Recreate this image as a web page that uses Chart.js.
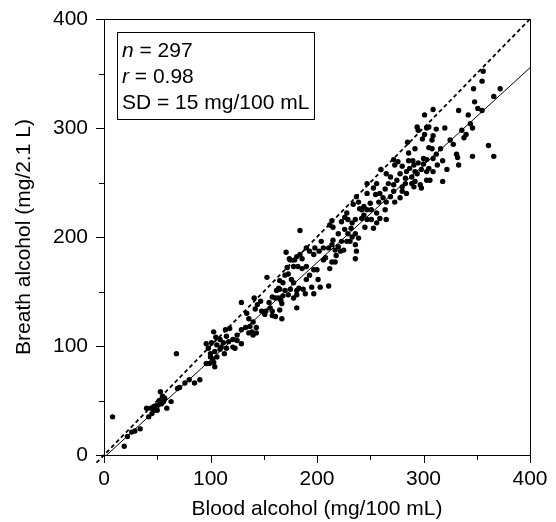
<!DOCTYPE html>
<html>
<head>
<meta charset="utf-8">
<script src="https://cdn.jsdelivr.net/npm/chart.js@4/dist/chart.umd.min.js"></script>
<style>
  html, body { margin: 0; padding: 0; background: #fff; }
  canvas { display: block; }
</style>
</head>
<body>
<canvas id="chart" width="556" height="522"></canvas>
<script>
// Paired measurements: blood alcohol (mg/100 mL) vs breath alcohol (mg/2.1 L)
const bloodAlcohol = [
  8,19,22,26,29,34,40,42,44,45,48,50,52,53,54,56,57,55,59,63,68,69,71,76,80,85,90,96,99,100,96,98,100,47,51,
  101,103,106,103,104,109,112,114,118,125,121,115,109,105,104,110,115,121,129,106,113,134,136,140,143,137,139,143,133,129,129,141,147,144,142,148,125,123,136,140,150,117,102,
  151,156,158,158,165,167,161,153,165,168,162,165,175,181,178,158,161,164,166,168,167,181,171,174,181,172,178,182,170,173,184,204,202,206,198,193,197,190,184,179,186,175,206,176,186,190,197,200,193,201,190,183,187,195,203,211,164,170,173,181,189,197,178,155,152,
  214,217,212,237,239,234,240,226,229,233,236,228,223,214,212,215,229,233,236,239,231,236,228,223,220,225,222,215,214,211,217,237,236,247,253,247,255,259,262,258,250,244,242,247,251,256,264,259,265,242,247,251,256,245,253,208,220,226,244,232,218,
  301,294,301,303,295,285,292,286,290,295,300,303,305,298,294,287,284,289,283,292,297,298,303,280,272,276,273,265,269,275,272,267,264,256,272,280,284,278,273,269,265,305,308,316,312,309,300,291,292,303,309,306,318,289,283,291,280,260,278,286,
  356,355,372,347,366,348,351,355,342,333,309,305,312,320,299,309,308,344,346,340,338,325,328,331,332,333,346,361,366,318,322,313,336
];
const breathAlcohol = [
  35,8,17,21,22,24,43,35,43,38,45,41,50,58,47,49,52,54,43,49,93,61,62,66,69,66,69,84,84,93,102,98,90,41,46,
  103,113,101,85,81,97,103,115,116,110,106,109,106,108,95,99,98,99,102,90,93,130,125,122,117,118,113,112,117,115,140,144,141,138,134,132,105,98,112,110,131,104,88,
  129,135,132,128,133,125,127,163,160,158,151,152,152,151,158,145,144,144,142,146,139,135,186,180,182,172,173,173,165,166,206,196,187,190,190,187,184,190,184,179,180,179,179,161,171,173,170,170,165,161,161,153,152,154,154,155,153,151,147,147,148,148,144,140,132,
  177,177,171,237,232,230,226,218,216,213,216,222,214,215,211,209,203,200,203,199,196,193,196,196,191,188,187,197,193,190,188,187,180,249,245,240,239,240,236,232,231,228,225,225,225,222,225,217,216,217,216,216,213,209,208,181,203,207,220,208,183,
  312,301,294,300,298,287,281,277,270,268,267,271,263,262,258,263,260,255,254,251,248,245,252,265,271,269,266,258,255,252,248,249,244,249,242,246,240,236,232,237,232,282,281,281,276,272,272,266,260,260,260,252,251,249,249,246,242,262,258,270,
  352,343,336,336,329,324,318,316,312,316,317,301,299,300,290,293,289,304,300,294,291,289,285,276,273,266,274,284,274,270,262,266,298
];

// Axis ticks
const majorTicks = [0, 100, 200, 300, 400];
const minorTicks = [50, 150, 250, 350];

// Line of identity and fitted regression line
const identityRange = [-7, 400];
const regressionSlope = 0.894;
const regressionIntercept = -2.3;
const regressionRange = [0, 400];

// Summary statistics box: [italic symbol, remaining text]
const statsLines = [
  ['n', ' = 297'],
  ['r', ' = 0.98'],
  ['', 'SD = 15 mg/100 mL']
];

const FONT = "'Liberation Sans', Arial, Helvetica, sans-serif";

const points = bloodAlcohol.map((b, i) => ({ x: b, y: breathAlcohol[i] }));
const identityLine = identityRange.map(v => ({ x: v, y: v }));
const regressionLine = regressionRange.map(v => ({ x: v, y: regressionIntercept + regressionSlope * v }));

const framePlugin = {
  id: 'frame',
  beforeDatasetsDraw(chart) {
    const { ctx, chartArea: a, scales: { x, y } } = chart;
    ctx.save();
    ctx.strokeStyle = '#000';
    ctx.lineWidth = 1;
    ctx.strokeRect(Math.round(a.left) + 0.5, Math.round(a.top) + 0.5,
                   Math.round(a.right - a.left), Math.round(a.bottom - a.top));
    ctx.beginPath();
    const mark = (v, len) => {
      const px = Math.round(x.getPixelForValue(v)) + 0.5;
      ctx.moveTo(px, a.bottom); ctx.lineTo(px, a.bottom + len);
      const py = Math.round(y.getPixelForValue(v)) + 0.5;
      ctx.moveTo(a.left, py); ctx.lineTo(a.left - len, py);
    };
    majorTicks.forEach(v => mark(v, 8));
    minorTicks.forEach(v => mark(v, 5));
    ctx.stroke();
    ctx.restore();
  }
};

const statsPlugin = {
  id: 'stats',
  afterDraw(chart) {
    const { ctx } = chart;
    ctx.save();
    ctx.strokeStyle = '#000';
    ctx.lineWidth = 1;
    ctx.strokeRect(117.5, 32.5, 197, 87);
    ctx.fillStyle = '#000';
    ctx.textBaseline = 'alphabetic';
    const baselines = [57, 83, 109];
    statsLines.forEach(([sym, rest], i) => {
      let xPos = 122;
      if (sym) {
        ctx.font = 'italic 21px ' + FONT;
        ctx.fillText(sym, xPos, baselines[i]);
        xPos += ctx.measureText(sym).width;
      }
      ctx.font = '21px ' + FONT;
      ctx.fillText(rest, xPos, baselines[i]);
    });
    ctx.restore();
  }
};

new Chart(document.getElementById('chart'), {
  type: 'scatter',
  data: {
    datasets: [
      {
        data: points,
        backgroundColor: '#000',
        borderColor: '#000',
        pointRadius: 2.7,
        pointBorderWidth: 0,
        order: 1
      },
      {
        data: regressionLine,
        showLine: true,
        borderColor: '#000',
        borderWidth: 1,
        pointRadius: 0,
        order: 2
      },
      {
        data: identityLine,
        showLine: true,
        borderColor: '#000',
        borderWidth: 1.8,
        borderDash: [4, 3],
        pointRadius: 0,
        clip: false,
        order: 3
      }
    ]
  },
  options: {
    responsive: false,
    animation: false,
    layout: { padding: { top: 19, right: 26, left: 0, bottom: 0 } },
    plugins: {
      legend: { display: false },
      tooltip: { enabled: false }
    },
    scales: {
      x: {
        type: 'linear',
        min: 0, max: 400,
        grid: { display: false, drawTicks: false },
        border: { display: false },
        ticks: {
          stepSize: 100,
          padding: 12,
          color: '#000',
          font: { family: FONT, size: 21 }
        },
        title: {
          display: true,
          text: 'Blood alcohol (mg/100 mL)',
          color: '#000',
          font: { family: FONT, size: 21 },
          padding: { top: 0, bottom: 0 }
        },
        afterFit(scale) {
          scale.height = 67;
          scale.paddingLeft = 0;
          scale.paddingRight = 0;
        }
      },
      y: {
        type: 'linear',
        min: 0, max: 400,
        grid: { display: false, drawTicks: false },
        border: { display: false },
        ticks: {
          stepSize: 100,
          padding: 16,
          color: '#000',
          font: { family: FONT, size: 21 }
        },
        title: {
          display: true,
          text: 'Breath alcohol (mg/2.1 L)',
          color: '#000',
          font: { family: FONT, size: 21 },
          padding: { top: 12, bottom: 0 }
        },
        afterFit(scale) {
          scale.width = 104;
          scale.paddingTop = 0;
          scale.paddingBottom = 0;
        }
      }
    }
  },
  plugins: [framePlugin, statsPlugin]
});
</script>
</body>
</html>
